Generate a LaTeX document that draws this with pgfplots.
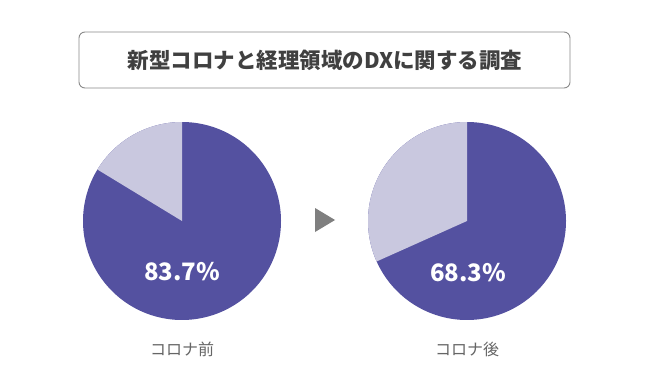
\documentclass[border=0pt]{standalone}
\usepackage{pgfplots}
\pgfplotsset{compat=1.18}
\usepackage{fontspec}
\newfontfamily\cjk{Noto Sans CJK JP}
\definecolor{dark}{HTML}{5451A0}
\definecolor{light}{HTML}{C9C8DF}
\definecolor{tgray}{HTML}{404040}
\definecolor{lgray}{HTML}{666666}
\definecolor{bgray}{HTML}{8A8A8A}
\definecolor{agray}{HTML}{7F7F7F}
\def\pbefore{83.7}
\def\pafter{68.3}
\begin{document}
\begin{tikzpicture}
\begin{axis}[width=650bp,height=380bp,scale only axis,axis lines=none,
  xmin=0,xmax=650,ymin=0,ymax=380,clip=false]
\path[fill=white] (axis cs:0,0) rectangle (axis cs:650,380);
% title box
\draw[bgray,line width=0.9bp,rounded corners=6bp,fill=white] (axis cs:79,348) rectangle (axis cs:570,292);
\node[font=\cjk\bfseries\fontsize{21.5bp}{24bp}\selectfont,text=tgray] at (axis cs:325,320) {新型コロナと経理領域のDXに関する調査};
% left pie
\addplot[fill=dark,draw=none,domain=0:360,samples=200] ({182+99*cos(x)},{159+99*sin(x)});
\addplot[fill=light,draw=none,domain=90:90+3.6*(100-\pbefore),samples=60] ({182+99*cos(x)},{159+99*sin(x)}) -- (axis cs:182,159) -- cycle;
% right pie
\addplot[fill=dark,draw=none,domain=0:360,samples=200] ({467+99*cos(x)},{159+99*sin(x)});
\addplot[fill=light,draw=none,domain=90:90+3.6*(100-\pafter),samples=80] ({467+99*cos(x)},{159+99*sin(x)}) -- (axis cs:467,159) -- cycle;
% arrow
\addplot[fill=agray,draw=none] coordinates {(315,172) (315,148) (335,160)} -- cycle;
% labels
\node[font=\cjk\bfseries\fontsize{24bp}{28bp}\selectfont,text=white] at (axis cs:182,108) {83.7\%};
\node[font=\cjk\bfseries\fontsize{24bp}{28bp}\selectfont,text=white] at (axis cs:468,107) {68.3\%};
\node[font=\cjk\fontsize{16bp}{19bp}\selectfont,text=lgray] at (axis cs:182,31) {コロナ前};
\node[font=\cjk\fontsize{16bp}{19bp}\selectfont,text=lgray] at (axis cs:467,31) {コロナ後};
\end{axis}
\end{tikzpicture}
\end{document}
